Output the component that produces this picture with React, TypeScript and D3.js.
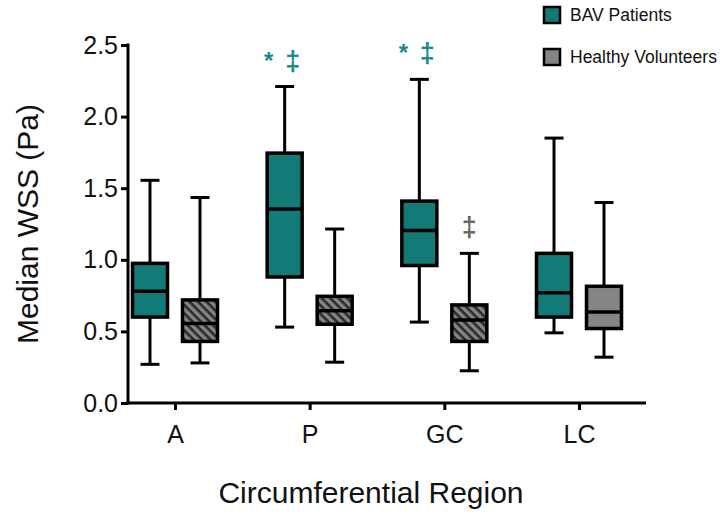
import React, { useEffect, useRef } from "react";
import * as d3 from "d3";

const categories = ["A", "P", "GC", "LC"];
const seriesNames = ["BAV Patients", "Healthy Volunteers"];
const yTicks = [0, 0.5, 1.0, 1.5, 2.0, 2.5];

// [min, q1, median, q3, max] per category
const bavStats = [
  [0.27, 0.6, 0.78, 0.975, 1.555],
  [0.53, 0.88, 1.355, 1.745, 2.21],
  [0.565, 0.96, 1.205, 1.41, 2.26],
  [0.49, 0.6, 0.77, 1.045, 1.85],
];
const healthyStats = [
  [0.28, 0.43, 0.555, 0.72, 1.435],
  [0.285, 0.55, 0.645, 0.745, 1.215],
  [0.225, 0.43, 0.58, 0.685, 1.045],
  [0.32, 0.52, 0.635, 0.815, 1.4],
];
// hatched boxes in healthy series (A, P, GC)
const healthyHatched = [true, true, true, false];

const bavMarks = ["", "* \u2021", "* \u2021", ""];
const healthyMarks = ["", "", "\u2021", ""];

const TEAL = "#127a77";
const TEAL_TEXT = "#1b8a86";
const GREY = "#858585";
const FONT = "'Liberation Sans', Arial, sans-serif";

export default function App() {
  const svgRef = useRef<SVGSVGElement>(null);

  useEffect(() => {
    const svg = d3.select(svgRef.current);
    svg.selectAll("*").remove();

    const y = d3.scaleLinear().domain([0, 2.5]).range([403, 45]);
    const x = d3.scalePoint<string>().domain(categories).range([175, 579]);
    const offset = 25;
    const boxW = 35;
    const capW = 19;

    const defs = svg.append("defs");
    const pat = defs
      .append("pattern")
      .attr("id", "hatch")
      .attr("patternUnits", "userSpaceOnUse")
      .attr("width", 6)
      .attr("height", 6)
      .attr("patternTransform", "rotate(45)");
    pat.append("rect").attr("width", 6).attr("height", 6).attr("fill", "#858585");
    pat
      .append("rect")
      .attr("x", 0)
      .attr("y", 0)
      .attr("width", 6)
      .attr("height", 2.6)
      .attr("fill", "#2a2a2a");

    // axes
    const yAxis = d3
      .axisLeft(y)
      .tickValues(yTicks)
      .tickFormat(d3.format(".1f"))
      .tickSize(7)
      .tickSizeOuter(0)
      .tickPadding(3);
    const gy = svg
      .append("g")
      .attr("transform", "translate(128,0)")
      .call(yAxis);
    gy.select(".domain").attr("stroke", "#000").attr("stroke-width", 3).attr("d", `M0,${y(2.5) - 1.5}V${y(0) + 1.5}`);
    gy.selectAll(".tick line").attr("stroke-width", 3);
    gy.selectAll(".tick text")
      .attr("font-family", FONT)
      .attr("font-size", 25)
      .attr("fill", "#111");

    const xAxis = d3.axisBottom(x).tickSize(7).tickSizeOuter(0).tickPadding(15);
    const gx = svg
      .append("g")
      .attr("transform", `translate(0,${y(0)})`)
      .call(xAxis);
    gx.select(".domain").attr("stroke-width", 3).attr("d", "M126.5,0H646");
    gx.selectAll(".tick line").attr("stroke-width", 3);
    gx.selectAll(".tick text")
      .attr("font-family", FONT)
      .attr("font-size", 25)
      .attr("fill", "#111");

    // boxes
    const drawBox = (cx: number, s: number[], fill: string) => {
      const g = svg.append("g");
      g.append("line")
        .attr("x1", cx)
        .attr("x2", cx)
        .attr("y1", y(s[0]))
        .attr("y2", y(s[4]))
        .attr("stroke", "#000")
        .attr("stroke-width", 3);
      [s[0], s[4]].forEach((v) =>
        g
          .append("line")
          .attr("x1", cx - capW / 2)
          .attr("x2", cx + capW / 2)
          .attr("y1", y(v))
          .attr("y2", y(v))
          .attr("stroke", "#000")
          .attr("stroke-width", 3)
      );
      g.append("rect")
        .attr("x", cx - boxW / 2)
        .attr("y", y(s[3]))
        .attr("width", boxW)
        .attr("height", y(s[1]) - y(s[3]))
        .attr("fill", fill)
        .attr("stroke", "#000")
        .attr("stroke-width", 3.5);
      g.append("line")
        .attr("x1", cx - boxW / 2)
        .attr("x2", cx + boxW / 2)
        .attr("y1", y(s[2]))
        .attr("y2", y(s[2]))
        .attr("stroke", "#000")
        .attr("stroke-width", 3.5);
    };

    categories.forEach((c, i) => {
      drawBox((x(c) as number) - offset, bavStats[i], TEAL);
      drawBox(
        (x(c) as number) + offset,
        healthyStats[i],
        healthyHatched[i] ? "url(#hatch)" : GREY
      );
    });

    // significance marks
    const drawMark = (cx: number, top: number, txt: string, color: string) => {
      if (!txt) return;
      const parts = txt.split(" ");
      const g = svg.append("g").attr("fill", color).attr("font-family", FONT).attr("font-weight", "bold");
      if (parts.length === 2) {
        g.append("text")
          .attr("x", cx - 16)
          .attr("y", y(top) - 18)
          .attr("text-anchor", "middle")
          .attr("font-size", 24)
          .text(parts[0]);
        g.append("text")
          .attr("x", cx + 8)
          .attr("y", y(top) - 17)
          .attr("text-anchor", "middle")
          .attr("font-size", 27)
          .text(parts[1]);
      } else {
        g.append("text")
          .attr("x", cx)
          .attr("y", y(top) - 17)
          .attr("text-anchor", "middle")
          .attr("font-size", 27)
          .text(parts[0]);
      }
    };
    categories.forEach((c, i) => {
      drawMark((x(c) as number) - offset, bavStats[i][4], bavMarks[i], TEAL_TEXT);
      drawMark((x(c) as number) + offset, healthyStats[i][4], healthyMarks[i], "#666");
    });

    // axis titles
    svg
      .append("text")
      .attr("transform", `translate(38,${(y(0) + y(2.5)) / 2}) rotate(-90)`)
      .attr("text-anchor", "middle")
      .attr("font-family", FONT)
      .attr("font-size", 30)
      .attr("fill", "#111")
      .text("Median WSS (Pa)");
    svg
      .append("text")
      .attr("x", 371)
      .attr("y", 503)
      .attr("text-anchor", "middle")
      .attr("font-family", FONT)
      .attr("font-size", 30)
      .attr("fill", "#111")
      .text("Circumferential Region");

    // legend
    const legend = svg.append("g").attr("transform", "translate(544,7)");
    seriesNames.forEach((name, i) => {
      const row = legend.append("g").attr("transform", `translate(0,${i * 42})`);
      row
        .append("rect")
        .attr("width", 16)
        .attr("height", 16)
        .attr("fill", i === 0 ? TEAL : GREY)
        .attr("stroke", "#000")
        .attr("stroke-width", 2.5);
      row
        .append("text")
        .attr("x", 26)
        .attr("y", 14)
        .attr("font-family", FONT)
        .attr("font-size", 17.5)
        .attr("fill", "#111")
        .text(name);
    });
  }, []);

  return (
    <svg
      ref={svgRef}
      width={727}
      height={514}
      style={{ position: "absolute", left: 0, top: 0, background: "#fff" }}
    />
  );
}
